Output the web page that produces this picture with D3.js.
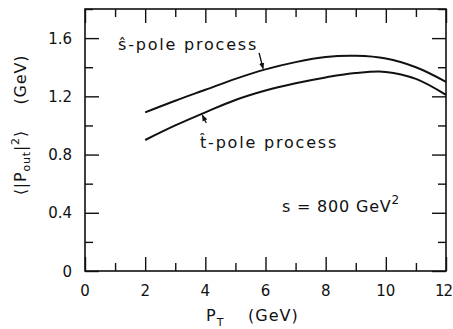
<!DOCTYPE html>
<html>
<head>
<meta charset="utf-8">
<script src="https://cdn.jsdelivr.net/npm/d3@7"></script>
<style>
  html, body { margin: 0; padding: 0; background: #fff; }
  svg text { font-family: "DejaVu Sans", sans-serif; fill: #111; }
</style>
</head>
<body>
<svg id="chart" width="453" height="329"></svg>
<script>
// Transverse momentum P_T (GeV)
const pt = [2, 3, 4, 5, 6, 7, 8, 9, 10, 11, 12];
// <|P_out|^2> (GeV) for the two processes
const sPole = [1.09, 1.17, 1.245, 1.32, 1.385, 1.435, 1.47, 1.478, 1.46, 1.40, 1.30];
const tPole = [0.90, 1.00, 1.09, 1.175, 1.24, 1.29, 1.33, 1.36, 1.368, 1.32, 1.21];
const xMajor = [0, 2, 4, 6, 8, 10, 12];
const xMinor = [1, 3, 5, 7, 9, 11];
const yMajor = [0, 0.4, 0.8, 1.2, 1.6];
const yMinor = [0.2, 0.6, 1.0, 1.4, 1.8];

const svg = d3.select("#chart");
const L = 85, R = 446, T = 9, B = 271;
const x = d3.scaleLinear().domain([0, 12]).range([L, R]);
const y = d3.scaleLinear().domain([0, 1.8]).range([B, T]);

const major = 14, minor = 8;
const g = svg.append("g");

function ticks(axisFn, scale, values, size, transform) {
  const a = axisFn(scale).tickValues(values).tickSize(-size).tickFormat("");
  const sel = g.append("g").attr("transform", transform).call(a);
  sel.select(".domain").remove();
  sel.selectAll("line").attr("stroke", "#111").attr("stroke-width", 1.4);
}
ticks(d3.axisBottom, x, xMajor, major, `translate(0,${B})`);
ticks(d3.axisBottom, x, xMinor, minor, `translate(0,${B})`);
ticks(d3.axisTop, x, xMajor, major, `translate(0,${T})`);
ticks(d3.axisTop, x, xMinor, minor, `translate(0,${T})`);
ticks(d3.axisLeft, y, yMajor, major, `translate(${L},0)`);
ticks(d3.axisLeft, y, yMinor, minor, `translate(${L},0)`);
ticks(d3.axisRight, y, yMajor, major, `translate(${R},0)`);
ticks(d3.axisRight, y, yMinor, minor, `translate(${R},0)`);

// frame
g.append("rect").attr("x", L).attr("y", T).attr("width", R - L).attr("height", B - T)
  .attr("fill", "none").attr("stroke", "#111").attr("stroke-width", 1.6);

// tick labels (the last one is kept inside the right edge)
g.selectAll(".xl").data(xMajor).enter().append("text")
  .attr("x", d => d === 12 ? 452 : x(d)).attr("y", B + 25)
  .attr("text-anchor", d => d === 12 ? "end" : "middle")
  .attr("letter-spacing", d => d === 12 ? -1 : 0)
  .attr("font-size", 15).text(d => d);
g.selectAll(".yl").data(yMajor).enter().append("text")
  .attr("x", L - 13).attr("y", d => y(d) + 5.5).attr("text-anchor", "end")
  .attr("font-size", 15).text(d => d === 0 ? "0" : d3.format(".1f")(d));

// axis titles
const xt = g.append("text").attr("x", 206).attr("y", 321).attr("font-size", 16)
  .attr("letter-spacing", 1);
xt.append("tspan").text("P");
xt.append("tspan").attr("font-size", 11).attr("dy", 5).text("T");
xt.append("tspan").attr("dy", -5).attr("x", 248).text("(GeV)");

const yt = g.append("text").attr("transform", "translate(26,125) rotate(-90)")
  .attr("text-anchor", "middle").attr("font-size", 16).attr("letter-spacing", 0.8);
yt.append("tspan").text("\u27E8|P");
yt.append("tspan").attr("font-size", 11).attr("dy", 4).text("out");
yt.append("tspan").attr("dy", -4).text("|");
yt.append("tspan").attr("font-size", 11).attr("dy", -7).text("2");
yt.append("tspan").attr("dy", 7).text("\u27E9\u2003\u2002(GeV)");

// curves
const line = d3.line().x(d => x(d[0])).y(d => y(d[1])).curve(d3.curveCatmullRom.alpha(0.5));
[sPole, tPole].forEach(vals => {
  g.append("path").datum(pt.map((p, i) => [p, vals[i]]))
    .attr("d", line).attr("fill", "none").attr("stroke", "#111").attr("stroke-width", 2);
});

// curve labels with pointer arrows
g.append("text").attr("x", 118).attr("y", 50).attr("font-size", 16)
  .attr("letter-spacing", 1.8).text("\u015D-pole process");
g.append("text").attr("x", 200).attr("y", 148).attr("font-size", 16)
  .attr("letter-spacing", 1.8).text("t\u0302-pole process");

const defs = svg.append("defs");
defs.append("marker").attr("id", "ah").attr("viewBox", "0 0 10 10").attr("refX", 9).attr("refY", 5)
  .attr("markerWidth", 5).attr("markerHeight", 5).attr("orient", "auto")
  .append("path").attr("d", "M0,1 L10,5 L0,9 Z").attr("fill", "#111");

const at = (vals, p) => {
  const i = d3.bisectRight(pt, p) - 1;
  return d3.interpolateNumber(vals[i], vals[i + 1])(p - pt[i]);
};
const sx = 5.92, tx = 3.9;
g.append("line").attr("x1", x(sx) - 4).attr("y1", 53).attr("x2", x(sx))
  .attr("y2", y(at(sPole, sx)) - 1.5)
  .attr("stroke", "#111").attr("stroke-width", 1.3).attr("marker-end", "url(#ah)");
g.append("line").attr("x1", x(tx) + 4).attr("y1", 123).attr("x2", x(tx))
  .attr("y2", y(at(tPole, tx)) + 1.5)
  .attr("stroke", "#111").attr("stroke-width", 1.3).attr("marker-end", "url(#ah)");

// energy annotation
const st = g.append("text").attr("x", 282).attr("y", 212).attr("font-size", 16)
  .attr("letter-spacing", 0.8);
st.append("tspan").text("s = 800  GeV");
st.append("tspan").attr("font-size", 12).attr("dy", -8).text("2");
</script>
</body>
</html>
